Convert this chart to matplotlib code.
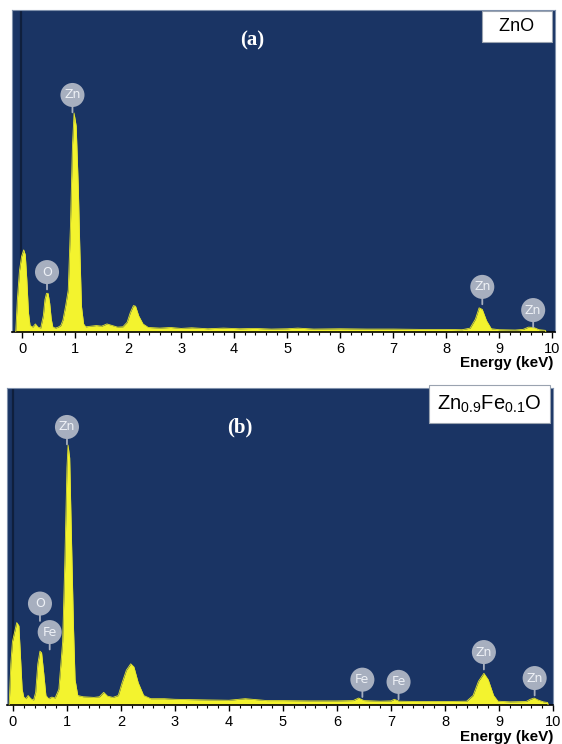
import numpy as np
import matplotlib
matplotlib.use("Agg")
import matplotlib.pyplot as plt
from matplotlib.ticker import MultipleLocator

# ==========================================
# DATA (intensity as fraction of panel height)
# ==========================================

energy_a = [-0.12, -0.09, -0.05, -0.01, 0.03, 0.06, 0.09, 0.12, 0.15, 0.20, 0.25, 0.30,
            0.35, 0.40, 0.43, 0.46, 0.49, 0.52, 0.55, 0.58, 0.63, 0.68, 0.73, 0.77,
            0.82, 0.87, 0.91, 0.95, 0.98, 1.02, 1.06, 1.09, 1.12, 1.16, 1.20, 1.30,
            1.40, 1.50, 1.60, 1.70, 1.80, 1.90, 1.98, 2.04, 2.10, 2.14, 2.20, 2.28,
            2.38, 2.60, 2.80, 3.00, 3.20, 3.50, 3.80, 4.10, 4.40, 4.70, 5.00, 5.20,
            5.50, 6.00, 6.50, 7.00, 7.50, 8.00, 8.30, 8.45, 8.55, 8.62, 8.68, 8.76,
            8.85, 9.00, 9.30, 9.45, 9.55, 9.65, 9.75, 9.87, 9.88]
counts_a = [0.0, 0.10, 0.19, 0.235, 0.255, 0.24, 0.16, 0.06, 0.02, 0.015, 0.025, 0.015,
            0.012, 0.05, 0.10, 0.12, 0.12, 0.09, 0.04, 0.015, 0.012, 0.015, 0.02, 0.037,
            0.08, 0.13, 0.32, 0.58, 0.68, 0.64, 0.45, 0.25, 0.08, 0.025, 0.016, 0.018,
            0.02, 0.018, 0.025, 0.02, 0.015, 0.016, 0.03, 0.06, 0.082, 0.08, 0.05, 0.025,
            0.014, 0.012, 0.014, 0.011, 0.013, 0.010, 0.012, 0.010, 0.011, 0.009, 0.010, 0.012,
            0.009, 0.010, 0.009, 0.009, 0.008, 0.008, 0.007, 0.012, 0.04, 0.075, 0.07, 0.035,
            0.01, 0.007, 0.006, 0.008, 0.015, 0.014, 0.007, 0.005, 0.0]

energy_b = [-0.07, -0.04, -0.01, 0.03, 0.07, 0.11, 0.14, 0.17, 0.20, 0.24, 0.28, 0.33,
            0.38, 0.42, 0.46, 0.50, 0.53, 0.57, 0.61, 0.66, 0.72, 0.78, 0.85, 0.92,
            0.96, 1.00, 1.02, 1.05, 1.08, 1.12, 1.15, 1.20, 1.30, 1.40, 1.50, 1.60,
            1.68, 1.75, 1.85, 1.95, 2.02, 2.10, 2.18, 2.24, 2.32, 2.42, 2.55, 2.80,
            3.00, 3.30, 3.60, 4.00, 4.30, 4.70, 5.00, 5.50, 6.00, 6.30, 6.40, 6.50,
            6.80, 7.00, 7.06, 7.15, 7.50, 8.00, 8.40, 8.52, 8.62, 8.72, 8.80, 8.90,
            8.98, 9.20, 9.50, 9.58, 9.65, 9.72, 9.82, 9.90, 9.91]
counts_b = [0.0, 0.13, 0.20, 0.23, 0.26, 0.25, 0.15, 0.05, 0.025, 0.02, 0.03, 0.02,
            0.015, 0.04, 0.13, 0.17, 0.165, 0.10, 0.03, 0.02, 0.025, 0.022, 0.05, 0.20,
            0.45, 0.75, 0.82, 0.78, 0.55, 0.25, 0.08, 0.03, 0.026, 0.025, 0.024, 0.026,
            0.04, 0.028, 0.024, 0.03, 0.07, 0.11, 0.13, 0.12, 0.07, 0.03, 0.02, 0.02,
            0.018, 0.017, 0.016, 0.015, 0.02, 0.014, 0.014, 0.013, 0.013, 0.014, 0.022, 0.014,
            0.012, 0.013, 0.018, 0.012, 0.011, 0.011, 0.012, 0.03, 0.075, 0.10, 0.08, 0.03,
            0.012, 0.01, 0.011, 0.018, 0.022, 0.016, 0.01, 0.008, 0.0]

# element markers: symbol, energy, circle height
labels_a = ["Zn", "O", "Zn", "Zn"]
label_x_a = [0.95, 0.47, 8.68, 9.64]
label_y_a = [0.736, 0.186, 0.14, 0.068]

labels_b = ["Zn", "O", "Fe", "Fe", "Fe", "Zn", "Zn"]
label_x_b = [1.00, 0.50, 0.68, 6.47, 7.14, 8.72, 9.66]
label_y_b = [0.877, 0.32, 0.23, 0.08, 0.073, 0.167, 0.085]

ticks = list(range(0, 11))

BG = "#1a3464"
YEL = "#f3f32e"
BUBBLE = "#a7afbf"

# ==========================================
# FIGURE
# ==========================================

fig = plt.figure(figsize=(5.62, 7.44), dpi=100)
ax_a = fig.add_axes([0.0214, 0.5538, 0.966, 0.4328])
ax_b = fig.add_axes([0.0125, 0.0524, 0.9715, 0.4261])


def draw_panel(ax, e, c, names, lx, ly, xlim, zero_x, tag, tag_xy, formula, box_x, box_fs):
    ax.set_facecolor(BG)
    ax.fill_between(e, 0, c, color=YEL, lw=0, zorder=2)
    ax.plot(e, c, color="#e6e62a", lw=0.6, zorder=3)
    ax.axvline(zero_x, color="#0f1f3d", lw=1.6, zorder=1)
    ax.set_xlim(*xlim)
    ax.set_ylim(0, 1)
    ax.set_yticks([])
    ax.set_xticks(ticks)
    ax.xaxis.set_minor_locator(MultipleLocator(0.2))
    ax.tick_params(axis="x", which="major", direction="out", length=4, width=1,
                   labelsize=10.5, pad=3)
    ax.tick_params(axis="x", which="minor", direction="out", length=2, width=0.8)
    for lab in ax.get_xticklabels():
        lab.set_family("Liberation Sans")
    ax.spines["bottom"].set_color("black")
    ax.spines["bottom"].set_linewidth(1.2)
    for s in ["top", "left", "right"]:
        ax.spines[s].set_color("#7f90ab")
        ax.spines[s].set_linewidth(0.8)

    for name, x, y in zip(names, lx, ly):
        ax.annotate("", xy=(x, y), xytext=(0, -14.5), textcoords="offset points",
                    arrowprops=dict(arrowstyle="-", color=BUBBLE, lw=1.3), zorder=4)
        ax.scatter([x], [y], s=300, color=BUBBLE, edgecolors="none", zorder=5)
        ax.text(x, y, name, color="#eef1f6", fontsize=9, ha="center", va="center",
                zorder=6)

    ax.text(tag_xy[0], tag_xy[1], tag, transform=ax.transAxes, color="white",
            fontsize=15, family="Liberation Serif", fontweight="bold",
            ha="center", va="center")
    ax.text(box_x, 0.949, formula, transform=ax.transAxes, color="black",
            fontsize=box_fs, family="Liberation Sans", ha="center", va="center",
            bbox=dict(boxstyle="square,pad=0.4", fc="white", ec="#9aa3b0", lw=0.8))


draw_panel(ax_a, energy_a, counts_a, labels_a, label_x_a, label_y_a,
           (-0.19, 10.05), -0.03, "(a)", (0.442, 0.905), "  ZnO  ", 0.93, 13)
draw_panel(ax_b, energy_b, counts_b, labels_b, label_x_b, label_y_b,
           (-0.11, 10.0), 0.0, "(b)", (0.427, 0.875),
           r"$\mathregular{Zn_{0.9}Fe_{0.1}O}$", 0.884, 14.5)

fig.text(553 / 562, 1 - 363 / 744, "Energy (keV)", ha="right", va="center",
         fontsize=11, fontweight="bold", family="Liberation Sans")
fig.text(553 / 562, 1 - 737 / 744, "Energy (keV)", ha="right", va="center",
         fontsize=11, fontweight="bold", family="Liberation Sans")

fig.savefig("out.png", dpi=100, facecolor="white")
